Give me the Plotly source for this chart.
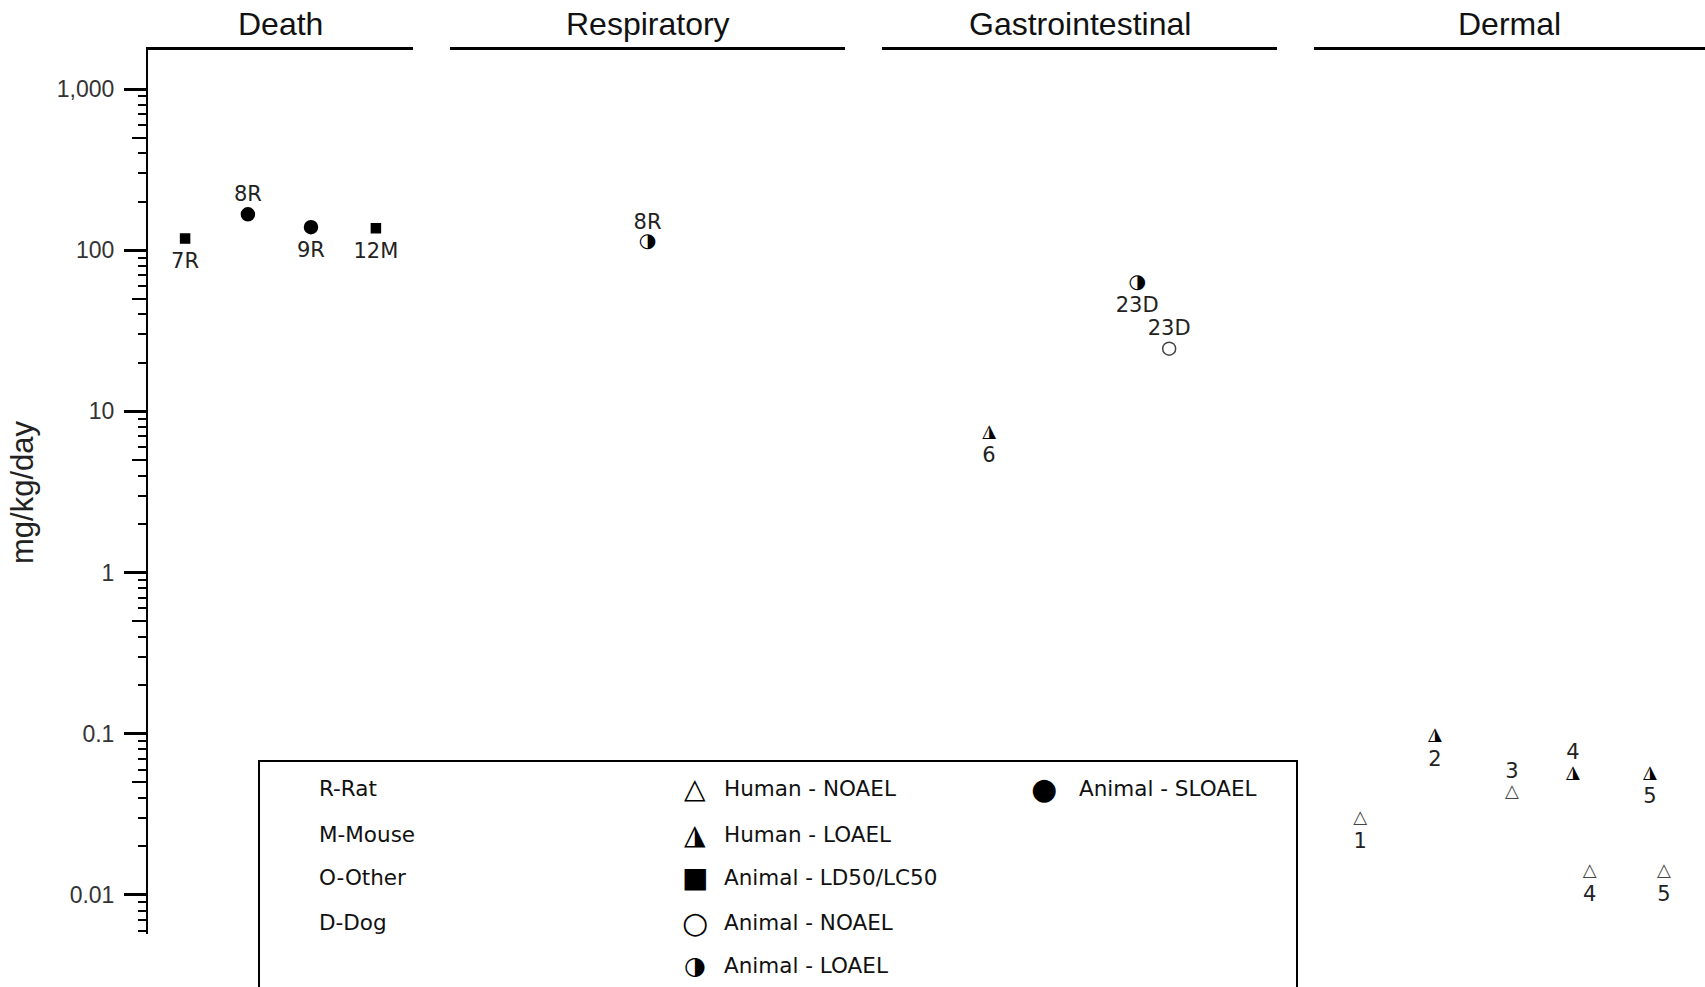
import plotly.graph_objects as go

# ---------------- data ----------------
panel_titles = ["Death", "Respiratory", "Gastrointestinal", "Dermal"]

death_labels = ["7R", "8R", "9R", "12M"]
death_values = [118, 167, 139, 137]
death_types = ["LD50", "SLOAEL", "SLOAEL", "LD50"]
death_label_side = ["below", "above", "below", "below"]

resp_labels = ["8R"]
resp_values = [112]
resp_types = ["A_LOAEL"]
resp_label_side = ["above"]

gi_labels = ["6", "23D", "23D"]
gi_values = [7.4, 63, 24.5]
gi_types = ["H_LOAEL", "A_LOAEL", "A_NOAEL"]
gi_label_side = ["below", "below", "above"]

dermal_labels = ["1", "2", "3", "4", "4", "5", "5"]
dermal_values = [0.030, 0.097, 0.0435, 0.057, 0.014, 0.057, 0.014]
dermal_types = ["H_NOAEL", "H_LOAEL", "H_NOAEL", "H_LOAEL", "H_NOAEL", "H_LOAEL", "H_NOAEL"]
dermal_label_side = ["below", "below", "above", "above", "below", "below", "below"]

y_tickvals = [0.01, 0.1, 1, 10, 100, 1000]
y_ticktext = ["0.01", "0.1", "1", "10", "100", "1,000"]
y_title = "mg/kg/day"

legend_species = ["R-Rat", "M-Mouse", "O-Other", "D-Dog"]
legend_effects = ["Human - NOAEL", "Human - LOAEL", "Animal - LD50/LC50",
                  "Animal - NOAEL", "Animal - LOAEL"]
legend_effect_types = ["H_NOAEL", "H_LOAEL", "LD50", "A_NOAEL", "A_LOAEL"]
legend_extra = ["Animal - SLOAEL"]
legend_extra_types = ["SLOAEL"]

# ---------------- layout / placement ----------------
W, H = 1705, 987
PL, PR, PT, PB = 148, 1705, 50, 934          # plot area in px
PW, PH = PR - PL, PB - PT

def px_x(p):
    return (p - PL) / PW

def px_y(p):
    return (PB - p) / PH

panel_px = [(148, 413), (450, 845), (882, 1277), (1314, 1705)]
panel_domains = [[px_x(a), min(1.0, px_x(b))] for a, b in panel_px]

# horizontal placement of the points inside each panel (fraction of panel width)
death_pos = [0.140, 0.377, 0.615, 0.860]
resp_pos = [0.50]
gi_pos = [0.271, 0.646, 0.727]
dermal_pos = [0.118, 0.309, 0.506, 0.662, 0.705, 0.859, 0.895]

GLYPH_FONT = "DejaVu Sans"
STYLE = {
    "LD50": dict(kind="marker", symbol="square", size=9, color="black", line="black", glyph="■", gsize=28),
    "SLOAEL": dict(kind="marker", symbol="circle", size=13, color="black", line="black", glyph="●", gsize=30),
    "A_NOAEL": dict(kind="marker", symbol="circle", size=13, color="white", line="#444", glyph="○", gsize=30),
    "A_LOAEL": dict(kind="glyph", glyph="◑", size=20, color="black", gsize=25),
    "H_NOAEL": dict(kind="glyph", glyph="△", size=18, color="#444", gsize=28),
    "H_LOAEL": dict(kind="glyph", glyph="◮", size=18, color="black", gsize=28),
}

LABEL_FONT = dict(family="DejaVu Sans", size=21, color="#222")
LABEL_MARKER = {"above": 12, "below": 21}

panels = [
    (death_labels, death_values, death_types, death_label_side, death_pos),
    (resp_labels, resp_values, resp_types, resp_label_side, resp_pos),
    (gi_labels, gi_values, gi_types, gi_label_side, gi_pos),
    (dermal_labels, dermal_values, dermal_types, dermal_label_side, dermal_pos),
]

fig = go.Figure()

for i, (labels, values, types, sides, pos) in enumerate(panels):
    xid = "x" if i == 0 else f"x{i + 1}"
    # markers
    for t in dict.fromkeys(types):
        xs = [p for p, tt in zip(pos, types) if tt == t]
        ys = [v for v, tt in zip(values, types) if tt == t]
        st = STYLE[t]
        if st["kind"] == "marker":
            fig.add_trace(go.Scatter(
                x=xs, y=ys, xaxis=xid, yaxis="y", mode="markers",
                marker=dict(symbol=st["symbol"], size=st["size"], color=st["color"],
                            line=dict(color=st["line"], width=1.5)),
                hoverinfo="y", showlegend=False))
        else:
            fig.add_trace(go.Scatter(
                x=xs, y=ys, xaxis=xid, yaxis="y", mode="text",
                text=[st["glyph"]] * len(xs), textposition="middle center",
                textfont=dict(family=GLYPH_FONT, size=st["size"], color=st["color"]),
                hoverinfo="y", showlegend=False))
    # labels
    for side in ["above", "below"]:
        idx = [k for k, s in enumerate(sides) if s == side]
        if not idx:
            continue
        fig.add_trace(go.Scatter(
            x=[pos[k] for k in idx], y=[values[k] for k in idx],
            xaxis=xid, yaxis="y", mode="markers+text",
            text=[labels[k] for k in idx],
            textposition="top center" if side == "above" else "bottom center",
            textfont=LABEL_FONT,
            marker=dict(size=LABEL_MARKER[side], color="rgba(0,0,0,0)"),
            hoverinfo="skip", showlegend=False))

# empty trace so the overlay axis for the "5" ticks is created
fig.add_trace(go.Scatter(x=[], y=[], xaxis="x", yaxis="y2", showlegend=False))

yr = [-2.242, 3.242]
minor_vals = []
five_vals = []
for e in range(-3, 4):
    for m in range(2, 10):
        v = m * 10 ** e
        if 10 ** yr[0] <= v <= 10 ** yr[1]:
            (five_vals if m == 5 else minor_vals).append(v)

layout = dict(
    width=W, height=H,
    margin=dict(l=PL, r=W - PR, t=PT, b=H - PB, pad=0),
    paper_bgcolor="white", plot_bgcolor="white",
    showlegend=False,
    yaxis=dict(
        type="log", range=yr, anchor="x", side="left",
        showline=True, linecolor="black", linewidth=2,
        showgrid=False, zeroline=False,
        tickmode="array", tickvals=y_tickvals, ticktext=y_ticktext,
        ticks="outside", ticklen=22, tickwidth=2.5, tickcolor="black",
        ticklabelstandoff=5,
        tickfont=dict(family="Liberation Sans", size=23, color="#333"),
        minor=dict(tickmode="array", tickvals=minor_vals, ticks="outside",
                   ticklen=8, tickwidth=2, tickcolor="black", showgrid=False),
        fixedrange=True,
    ),
    yaxis2=dict(
        type="log", range=yr, overlaying="y", anchor="x", side="left",
        showline=False, showgrid=False, zeroline=False,
        tickmode="array", tickvals=five_vals, showticklabels=False,
        ticks="outside", ticklen=15, tickwidth=2, tickcolor="black",
        fixedrange=True,
    ),
)
for i, dom in enumerate(panel_domains):
    key = "xaxis" if i == 0 else f"xaxis{i + 1}"
    layout[key] = dict(
        domain=dom, range=[0, 1], anchor="y", side="top",
        showline=True, linecolor="black", linewidth=2.5,
        showgrid=False, zeroline=False, ticks="", showticklabels=False,
        fixedrange=True,
    )
fig.update_layout(**layout)

# panel titles
for i, t in enumerate(panel_titles):
    xref = "x domain" if i == 0 else f"x{i + 1} domain"
    fig.add_annotation(text=t, xref=xref, x=0.5, yref="paper", y=1,
                       xanchor="center", yanchor="middle", yshift=26, showarrow=False,
                       font=dict(family="Liberation Sans", size=32, color="#111"))

# y-axis title
fig.add_annotation(text=y_title, xref="paper", x=px_x(22), yref="paper", y=0.5,
                   textangle=-90, xanchor="center", yanchor="middle", showarrow=False,
                   font=dict(family="Liberation Sans", size=31, color="#222"))

# legend box
fig.add_shape(type="rect", xref="paper", yref="paper",
              x0=px_x(259), x1=px_x(1297), y0=px_y(1010), y1=px_y(761),
              line=dict(color="black", width=2), fillcolor="white", layer="above")

LEG_FONT = dict(family="DejaVu Sans", size=21.5, color="#111")
row_y = [788, 834, 877.5, 922, 965]
for k, s in enumerate(legend_species):
    fig.add_annotation(text=s, xref="paper", yref="paper", x=px_x(317), y=px_y(row_y[k]),
                       xanchor="left", yanchor="middle", showarrow=False, font=LEG_FONT)
for k, (s, t) in enumerate(zip(legend_effects, legend_effect_types)):
    st = STYLE[t]
    fig.add_annotation(text=st["glyph"], xref="paper", yref="paper", x=px_x(694.5), y=px_y(row_y[k]),
                       xanchor="center", yanchor="middle", showarrow=False,
                       font=dict(family=GLYPH_FONT, size=st["gsize"], color="black"))
    fig.add_annotation(text=s, xref="paper", yref="paper", x=px_x(722), y=px_y(row_y[k]),
                       xanchor="left", yanchor="middle", showarrow=False, font=LEG_FONT)
for k, (s, t) in enumerate(zip(legend_extra, legend_extra_types)):
    st = STYLE[t]
    fig.add_annotation(text=st["glyph"], xref="paper", yref="paper", x=px_x(1044), y=px_y(row_y[k]),
                       xanchor="center", yanchor="middle", showarrow=False,
                       font=dict(family=GLYPH_FONT, size=st["gsize"], color="black"))
    fig.add_annotation(text=s, xref="paper", yref="paper", x=px_x(1077), y=px_y(row_y[k]),
                       xanchor="left", yanchor="middle", showarrow=False, font=LEG_FONT)

fig.write_html("out.html", config={"displayModeBar": False},
               post_script="document.body.style.margin='0px';")
